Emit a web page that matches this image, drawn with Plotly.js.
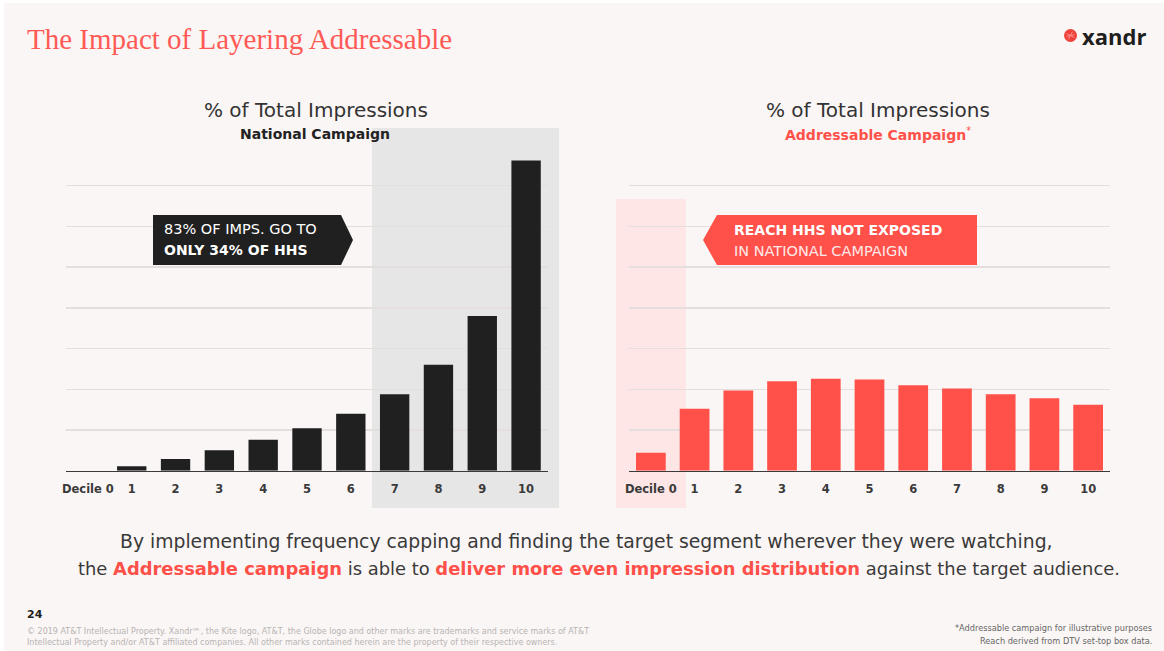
<!DOCTYPE html>
<html><head><meta charset="utf-8">
<script src="https://cdn.plot.ly/plotly-3.0.1.min.js"></script>
<style>html,body{margin:0;padding:0;background:#fff;}#chart{width:1164px;height:651px;}</style>
</head><body><div id="chart"></div>
<script>
// ---- data ----
const deciles = [0,1,2,3,4,5,6,7,8,9,10];
const decileLabels = ["Decile 0","1","2","3","4","5","6","7","8","9","10"];
const nationalPct = [0, 0.55, 1.45, 2.5, 3.8, 5.2, 7.0, 9.4, 13.0, 19.0, 38.1];
const addressablePct = [2.2, 7.6, 9.85, 11.0, 11.3, 11.2, 10.5, 10.1, 9.4, 8.9, 8.1];
const gridTicks = [0,5,10,15,20,25,30,35,40];

const W = 1164, H = 651;
const px = x => x / W;
const py = y => 1 - y / H;
const FONT = "'DejaVu Sans', sans-serif";
const RED = "#ff5049";

const traces = [
  {type:'bar', x:deciles, y:nationalPct, xaxis:'x', yaxis:'y', width:0.67,
   marker:{color:'#202020', line:{width:0}}, hoverinfo:'skip', showlegend:false},
  {type:'bar', x:deciles, y:addressablePct, xaxis:'x2', yaxis:'y2', width:0.68,
   marker:{color:RED, line:{width:0}}, hoverinfo:'skip', showlegend:false}
];

function xax(domain){
  return {domain:domain, range:[-0.5,10.5], tickmode:'array', tickvals:deciles, ticktext:decileLabels,
    showgrid:false, zeroline:false, showline:true, linecolor:'#3a3a3a', linewidth:1.5,
    ticks:'', ticklen:0, ticklabelstandoff:7, fixedrange:true,
    tickfont:{family:FONT, size:11.5, color:'#3a3a3a', weight:700}};
}
function yax(anchor){
  return {domain:[py(470.7), py(145)], range:[0,40], tickmode:'array', tickvals:gridTicks,
    showticklabels:false, showgrid:true, gridcolor:'#e4dfde', gridwidth:1.5, zeroline:false,
    showline:false, anchor:anchor, fixedrange:true};
}

const c = [1070.5, 35.5];
const shapes = [
  {type:'rect', xref:'paper', yref:'paper', x0:px(4), x1:1, y0:0, y1:py(3), fillcolor:'#faf6f5', line:{width:0}, layer:'below'},
  {type:'rect', xref:'paper', yref:'paper', x0:px(372), x1:px(559), y0:py(508), y1:py(128), fillcolor:'#e6e6e6', line:{width:0}, layer:'below'},
  {type:'rect', xref:'paper', yref:'paper', x0:px(616), x1:px(686), y0:py(508), y1:py(199), fillcolor:'#fde6e5', line:{width:0}, layer:'below'},
  {type:'path', xref:'paper', yref:'paper', layer:'above', line:{width:0}, fillcolor:'#202020',
   path:`M ${px(153)} ${py(215)} L ${px(341)} ${py(215)} L ${px(353)} ${py(240)} L ${px(341)} ${py(265)} L ${px(153)} ${py(265)} Z`},
  {type:'path', xref:'paper', yref:'paper', layer:'above', line:{width:0}, fillcolor:RED,
   path:`M ${px(717)} ${py(215)} L ${px(977)} ${py(215)} L ${px(977)} ${py(265)} L ${px(717)} ${py(265)} L ${px(703)} ${py(240)} Z`},
  {type:'circle', xref:'paper', yref:'paper', x0:px(1064), x1:px(1077), y0:py(42), y1:py(29), fillcolor:'#f0403a', line:{width:0}, layer:'above'},
  {type:'path', xref:'paper', yref:'paper', layer:'above', line:{width:0.8, color:'#ff9d97'},
   path:`M ${px(c[0]-4)} ${py(c[1]-2)} L ${px(c[0]+4)} ${py(c[1]+2)} M ${px(c[0]-2)} ${py(c[1]+4)} L ${px(c[0]+2)} ${py(c[1]-4)} M ${px(c[0]+4)} ${py(c[1]-1)} L ${px(c[0]-4)} ${py(c[1]+1)}`}
];

function ann(x, y, text, size, color, opts){
  return Object.assign({xref:'paper', yref:'paper', x:px(x), y:py(y), text:text, showarrow:false,
    xanchor:'center', yanchor:'middle', font:{family:FONT, size:size, color:color}}, opts||{});
}

const annotations = [
  ann(25, 39, "The Impact of Layering Addressable", 29, '#ff5a55', {xanchor:'left', font:{family:"'Liberation Serif', serif", size:29, color:'#ff5a55'}}),
  ann(1080, 36, "<b>xandr</b>", 22, '#1e1e1e', {xanchor:'left', font:{family:"'Open Sans', sans-serif", size:22, color:'#1e1e1e'}}),
  ann(316, 110, "% of Total Impressions", 20, '#333333'),
  ann(315, 134, "<b>National Campaign</b>", 14, '#222222'),
  ann(878, 110, "% of Total Impressions", 20, '#333333'),
  ann(878, 134, "<b>Addressable Campaign</b><sup>*</sup>", 14, RED),
  ann(162, 229, "83% OF IMPS. GO TO", 14.5, '#ffffff', {xanchor:'left'}),
  ann(162, 250, "<b>ONLY 34% OF HHS</b>", 14, '#ffffff', {xanchor:'left'}),
  ann(732, 230, "<b>REACH HHS NOT EXPOSED</b>", 14, '#ffffff', {xanchor:'left'}),
  ann(732, 251, "IN NATIONAL CAMPAIGN", 14.5, '#ffe9e8', {xanchor:'left'}),
  ann(586, 541, "By implementing frequency capping and finding the target segment wherever they were watching,", 18.8, '#3a3a3a'),
  ann(599, 568, `the <b><span style="color:${RED}">Addressable campaign</span></b> is able to <b><span style="color:${RED}">deliver more even impression distribution</span></b> against the target audience.`, 17.9, '#3a3a3a'),
  ann(25, 614, "<b>24</b>", 11, '#222222', {xanchor:'left'}),
  ann(25, 631, "© 2019 AT&amp;T Intellectual Property. Xandr℠, the Kite logo, AT&amp;T, the Globe logo and other marks are trademarks and service marks of AT&amp;T", 8, '#b8b4b4', {xanchor:'left'}),
  ann(25, 642, "Intellectual Property and/or AT&amp;T affiliated companies. All other marks contained herein are the property of their respective owners.", 8, '#b8b4b4', {xanchor:'left'}),
  ann(1154, 628, "*Addressable campaign for illustrative purposes", 8.2, '#666666', {xanchor:'right'}),
  ann(1154, 641, "Reach derived from DTV set-top box data.", 8.2, '#666666', {xanchor:'right'})
];

const layout = {
  width:W, height:H, margin:{l:0,r:0,t:0,b:0}, paper_bgcolor:'#ffffff', plot_bgcolor:'rgba(0,0,0,0)',
  showlegend:false, bargap:0.33,
  xaxis: Object.assign(xax([px(66), px(548)]), {anchor:'y'}),
  yaxis: yax('x'),
  xaxis2: Object.assign(xax([px(629), px(1110)]), {anchor:'y2'}),
  yaxis2: yax('x2'),
  shapes: shapes, annotations: annotations
};

Plotly.newPlot('chart', traces, layout, {displayModeBar:false, staticPlot:true});
</script></body></html>
